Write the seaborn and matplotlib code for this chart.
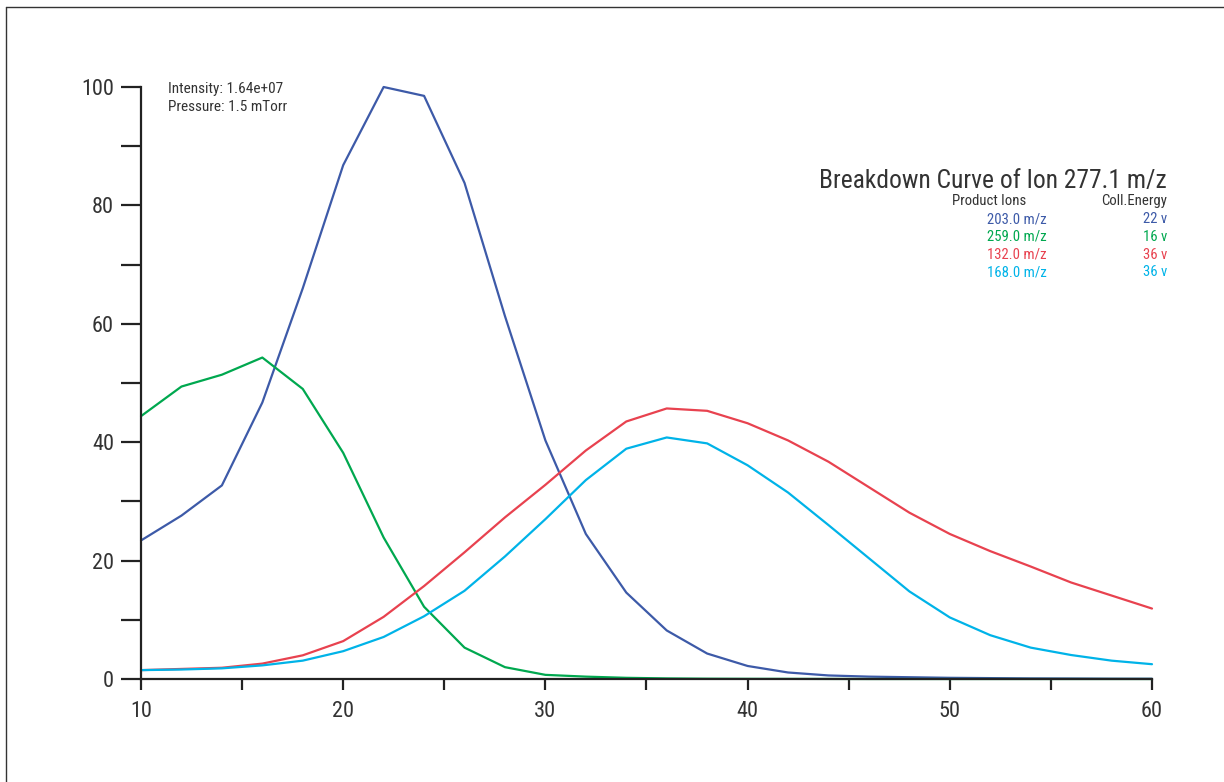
import numpy as np
import pandas as pd
import matplotlib
matplotlib.use("Agg")
import matplotlib.pyplot as plt
from matplotlib.lines import Line2D
from matplotlib import font_manager
from matplotlib.font_manager import FontProperties
import seaborn as sns

# ---- data ----
energy = [10, 12, 14, 16, 18, 20, 22, 24, 26, 28, 30, 32, 34, 36, 38, 40,
          42, 44, 46, 48, 50, 52, 54, 56, 58, 60]
ion_203 = [23.4, 27.6, 32.7, 46.7, 66.0, 86.8, 100.0, 98.5, 83.8, 61.3, 40.3, 24.5,
           14.6, 8.2, 4.3, 2.2, 1.1, 0.6, 0.4, 0.3, 0.2, 0.15, 0.1, 0.08, 0.05, 0.04]
ion_259 = [44.4, 49.4, 51.4, 54.3, 49.0, 38.2, 23.9, 12.2, 5.3, 2.0, 0.7, 0.4,
           0.2, 0.1, 0.05, 0.03, 0.02, 0.01, 0.0, 0.0, 0.0, 0.0, 0.0, 0.0, 0.0, 0.0]
ion_132 = [1.5, 1.7, 1.9, 2.6, 4.0, 6.4, 10.5, 15.7, 21.4, 27.3, 32.8, 38.6,
           43.5, 45.7, 45.3, 43.2, 40.3, 36.7, 32.4, 28.1, 24.5, 21.6, 19.0, 16.3, 14.1, 11.9]
ion_168 = [1.5, 1.6, 1.8, 2.3, 3.1, 4.7, 7.1, 10.6, 14.9, 20.7, 27.0, 33.6,
           38.9, 40.8, 39.8, 36.1, 31.5, 26.0, 20.4, 14.8, 10.4, 7.4, 5.3, 4.05, 3.1, 2.5]

ion_labels = ["203.0 m/z", "259.0 m/z", "132.0 m/z", "168.0 m/z"]
coll_energy = ["22 v", "16 v", "36 v", "36 v"]
colors = ["#3D5AA8", "#00A84F", "#E8424F", "#00B3E8"]

title_text = "Breakdown Curve of Ion 277.1 m/z"
info_lines = ["Intensity: 1.64e+07", "Pressure: 1.5 mTorr"]
x_major = [10, 20, 30, 40, 50, 60]
x_minor = [15, 25, 35, 45, 55]
y_major = [0, 20, 40, 60, 80, 100]
y_minor = [10, 30, 50, 70, 90]

# ---- build long-form table ----
df = pd.DataFrame({"energy": energy, ion_labels[0]: ion_203, ion_labels[1]: ion_259,
                   ion_labels[2]: ion_132, ion_labels[3]: ion_168})
long = df.melt(id_vars="energy", var_name="ion", value_name="value")

sns.set_theme(style="white")
plt.rcParams["font.family"] = ["DejaVu Sans"]

# pick a condensed / narrow face if one is installed
def pick_font():
    prefs = ["Liberation Sans Narrow", "Roboto Condensed", "Open Sans Condensed",
             "Noto Sans Condensed", "Noto Sans", "Open Sans", "Roboto", "DejaVu Sans Condensed",
             "DejaVu Sans"]
    narrow = []
    for f in font_manager.fontManager.ttflist:
        nm = f.name
        fn = f.fname.lower()
        is_narrow = ("narrow" in nm.lower() or "condensed" in nm.lower()
                     or "condensed" in str(f.stretch).lower() or "narrow" in fn
                     or ("condensed" in fn and "semicondensed" not in fn and "extracondensed" not in fn))
        if not is_narrow:
            continue
        if f.style != "normal":
            continue
        w = f.weight if isinstance(f.weight, int) else {"normal": 400, "regular": 400}.get(str(f.weight), 700)
        if w != 400:
            continue
        if "bold" in fn or "italic" in fn or "light" in fn or "medium" in fn or "thin" in fn or "black" in fn:
            continue
        narrow.append(f)
    for p in prefs:
        for f in narrow:
            if f.name == p:
                return f.fname
    if narrow:
        return narrow[0].fname
    return None

fpath = pick_font()

def fp(size):
    if fpath:
        return FontProperties(fname=fpath, size=size)
    return FontProperties(family="DejaVu Sans", size=size)

txt = "#333333"
fig = plt.figure(figsize=(12.24, 7.82), dpi=100)
ax = fig.add_axes([141 / 1224, 1 - 679 / 782, (1152 - 141) / 1224, (679 - 87) / 782])

sns.lineplot(data=long, x="energy", y="value", hue="ion", hue_order=ion_labels,
             palette=colors, legend=False, linewidth=1.6, ax=ax)
for ln in ax.lines:
    ln.set_clip_on(False)

ax.set_xlim(10, 60)
ax.set_ylim(0, 100)
ax.set_xlabel("")
ax.set_ylabel("")
for s in ["top", "right"]:
    ax.spines[s].set_visible(False)
for s in ["left", "bottom"]:
    ax.spines[s].set_linewidth(1.6)
    ax.spines[s].set_color("#222222")

ax.set_xticks(x_major)
ax.set_xticks(x_minor, minor=True)
ax.set_yticks(y_major)
ax.set_yticks(y_minor, minor=True)
ax.set_xticklabels([str(v) for v in x_major])
ax.set_yticklabels([str(v) for v in y_major])
ax.tick_params(axis="x", which="both", direction="out", length=8, width=1.6,
               color="#222222", labelcolor=txt, pad=8, bottom=True)
ax.tick_params(axis="y", which="both", direction="out", length=14.5, width=1.6,
               color="#222222", labelcolor=txt, pad=5, left=True)
for lbl in ax.get_xticklabels() + ax.get_yticklabels():
    lbl.set_fontproperties(fp(16))
ax.grid(False)

# info text
fig.text(168 / 1224, 1 - 89 / 782, info_lines[0], fontproperties=fp(11), color=txt, va="center", ha="left")
fig.text(168 / 1224, 1 - 107 / 782, info_lines[1], fontproperties=fp(11), color=txt, va="center", ha="left")

# title and legend table
fig.text(1167 / 1224, 1 - 188 / 782, title_text, fontproperties=fp(18.4), color=txt, ha="right", va="baseline")
fig.text(1026 / 1224, 1 - 201 / 782, "Product Ions", fontproperties=fp(10.6), color=txt, ha="right", va="center")
fig.text(1167 / 1224, 1 - 201 / 782, "Coll.Energy", fontproperties=fp(10.6), color=txt, ha="right", va="center")
for i, (lab, ce, c) in enumerate(zip(ion_labels, coll_energy, colors)):
    yy = 1 - (219 + i * 17.8) / 782
    fig.text(1047 / 1224, yy, lab, fontproperties=fp(10.6), color=c, ha="right", va="center")
    fig.text(1167 / 1224, yy, ce, fontproperties=fp(10.6), color=c, ha="right", va="center")

# outer frame (top and left edges)
fig.add_artist(Line2D([6 / 1224, 1.0], [1 - 7 / 782, 1 - 7 / 782], transform=fig.transFigure,
                      color="#333333", linewidth=1.0))
fig.add_artist(Line2D([6 / 1224, 6 / 1224], [0.0, 1 - 7 / 782], transform=fig.transFigure,
                      color="#333333", linewidth=1.0))

fig.savefig("out.png", dpi=100)
